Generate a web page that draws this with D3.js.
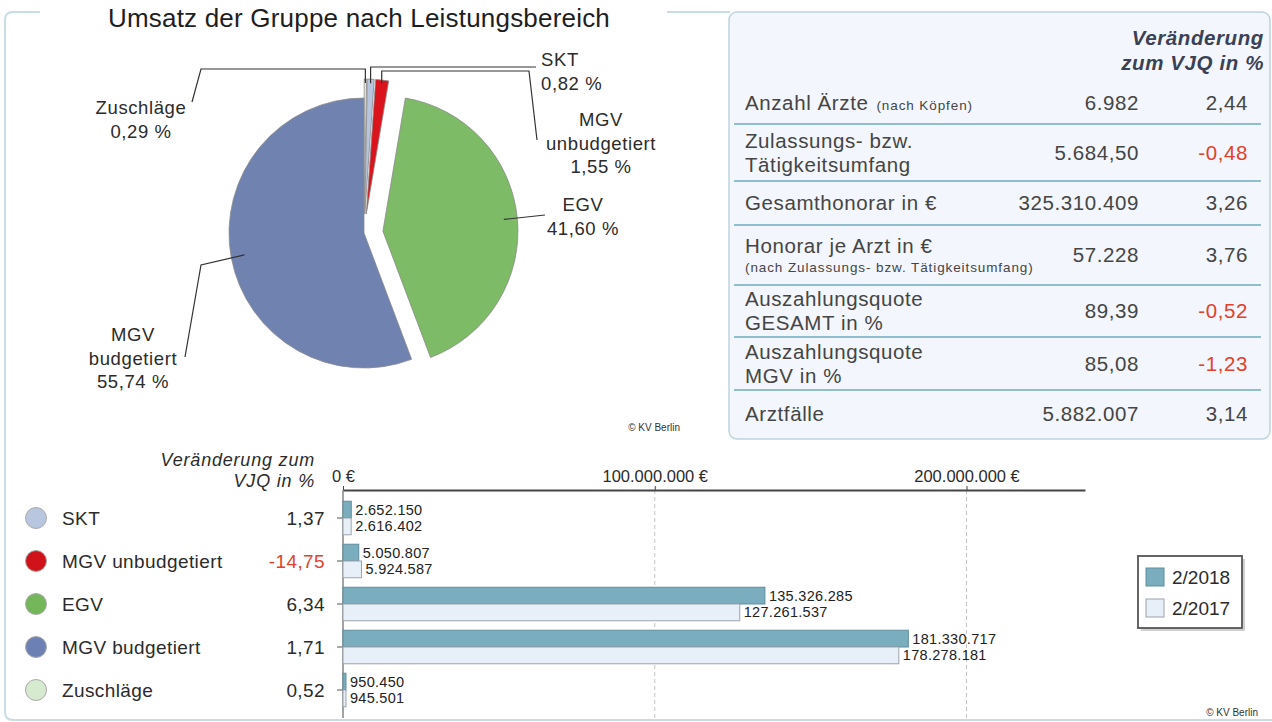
<!DOCTYPE html>
<html lang="de">
<head>
<meta charset="UTF-8">
<title>Umsatz der Gruppe nach Leistungsbereich</title>
<style>
  body {
    margin: 0;
    padding: 0;
    background: #fff;
    overflow: hidden;
  }
  svg {
    display: block;
    font-family: "Liberation Sans", Arial, sans-serif;
  }
</style>
</head>
<body>
<script src="https://d3js.org/d3.v7.min.js"></script>
<script>
// pie: share of turnover by area (clockwise from 12 o'clock)
const pieNames = ["Zuschläge", "SKT", "MGV unbudgetiert", "EGV", "MGV budgetiert"];
const pieShares = [0.29, 0.82, 1.55, 41.60, 55.74];
const pieColors = ["#e4ece0", "#b7c5df", "#d9141c", "#7dbb66", "#6f82b0"];

// bar chart
const barCategories = ["SKT", "MGV unbudgetiert", "EGV", "MGV budgetiert", "Zuschläge"];
const legendColors = ["#b9c6e0", "#d0121b", "#74b65a", "#6c80b3", "#d6ead0"];
const changeVJQ = [1.37, -14.75, 6.34, 1.71, 0.52];
const values2018 = [2652150, 5050807, 135326285, 181330717, 950450];
const values2017 = [2616402, 5924587, 127261537, 178278181, 945501];
const seriesNames = ["2/2018", "2/2017"];
const xTickValues = [0, 100000000, 200000000];

// key figures table
const tableLabels = [
  ["Anzahl Ärzte"],
  ["Zulassungs- bzw.", "Tätigkeitsumfang"],
  ["Gesamthonorar in €"],
  ["Honorar je Arzt in €"],
  ["Auszahlungsquote", "GESAMT in %"],
  ["Auszahlungsquote", "MGV in %"],
  ["Arztfälle"]
];
const tableNotes = ["(nach Köpfen)", "", "", "(nach Zulassungs- bzw. Tätigkeitsumfang)", "", "", ""];
const tableValues = [6982, 5684.50, 325310409, 57228, 89.39, 85.08, 5882007];
const tableChanges = [2.44, -0.48, 3.26, 3.76, -0.52, -1.23, 3.14];

const width = 1272, height = 722;
const de = d3.formatLocale({decimal: ",", thousands: ".", grouping: [3], currency: ["", " €"], minus: "-"});
const fmtInt = de.format(",.0f");
const fmt2 = de.format(",.2f");
const textCol = "#2b2b2b";
const negCol = "#e2412b";

const svg = d3.select("body").append("svg")
  .attr("width", width)
  .attr("height", height);

// outer frame (interrupted by the title)
svg.append("path")
  .attr("d", "M40,12 H13 Q5,12 5,20 V712 Q5,720 13,720 H1272 M667,12 H730")
  .attr("fill", "none")
  .attr("stroke", "#c9dde5")
  .attr("stroke-width", 2);

svg.append("text")
  .attr("x", 359).attr("y", 27)
  .attr("text-anchor", "middle")
  .attr("font-size", 26)
  .attr("letter-spacing", 0.2)
  .attr("fill", "#1e1e1e")
  .text("Umsatz der Gruppe nach Leistungsbereich");

// ---------- pie ----------
const cx = 364, cy = 233, pieR = 135;
const pieData = d3.pie().sort(null).value(d => d)(pieShares);
const arc = d3.arc().innerRadius(0).outerRadius(pieR);
const maxShare = d3.max(pieShares);
const explodeBy = d => d.value === maxShare ? 0 : 19;
const midA = d => (d.startAngle + d.endAngle) / 2;
const offset = d => [Math.sin(midA(d)) * explodeBy(d), -Math.cos(midA(d)) * explodeBy(d)];
const pointOn = (d, frac) => {
  const o = offset(d);
  return [cx + o[0] + Math.sin(midA(d)) * pieR * frac, cy + o[1] - Math.cos(midA(d)) * pieR * frac];
};

const gPie = svg.append("g").attr("transform", `translate(${cx},${cy})`);
gPie.selectAll("path")
  .data(pieData)
  .join("path")
  .attr("transform", d => `translate(${offset(d)})`)
  .attr("d", arc)
  .attr("fill", (d, i) => pieColors[i])
  .attr("stroke", "#8a8a8a")
  .attr("stroke-width", 0.8);

// label placement and leader elbows
const pieLabelPos = [
  {x: 141, y: 108, anchor: "middle", leader: s => [s, [s[0], 69], [201, 69], [192, 102]]},
  {x: 541, y: 60, anchor: "start", leader: s => [s, [s[0], 67], [536, 67]]},
  {x: 601, y: 120, anchor: "middle", leader: s => [s, [s[0], 71], [529, 71], [537, 140]]},
  {x: 583, y: 205, anchor: "middle", leader: s => [s, [545, 215]]},
  {x: 133, y: 335, anchor: "middle", leader: s => [s, [201, 265], [185, 357]]}
];
const lineGen = d3.line();
pieData.forEach((d, i) => {
  const pos = pieLabelPos[i];
  const start = pointOn(d, d.value < 5 ? 0.97 : 0.9);
  svg.append("path")
    .attr("d", lineGen(pos.leader(start)))
    .attr("fill", "none")
    .attr("stroke", "#333")
    .attr("stroke-width", 1.2);
  const lines = pieNames[i].split(" ").concat([fmt2(pieShares[i]) + " %"]);
  const t = svg.append("text")
    .attr("text-anchor", pos.anchor)
    .attr("font-size", 18.5)
    .attr("letter-spacing", 0.6)
    .attr("fill", textCol);
  lines.forEach((ln, k) => {
    t.append("tspan").attr("x", pos.x).attr("y", pos.y + 6 + k * 23.5).text(ln);
  });
});

svg.append("text")
  .attr("x", 680).attr("y", 431)
  .attr("text-anchor", "end")
  .attr("font-size", 10)
  .attr("fill", "#333")
  .text("© KV Berlin");

// ---------- table ----------
const tx = 729, ty = 12, tw = 541, th = 427;
svg.append("rect")
  .attr("x", tx).attr("y", ty).attr("width", tw).attr("height", th)
  .attr("rx", 8)
  .attr("fill", "#f3f6fc")
  .attr("stroke", "#bcd4de")
  .attr("stroke-width", 1.5);

const head = svg.append("text")
  .attr("text-anchor", "end")
  .attr("font-size", 20.5)
  .attr("letter-spacing", 0.6)
  .attr("font-weight", "bold")
  .attr("font-style", "italic")
  .attr("fill", "#3a4157");
["Veränderung", "zum VJQ in %"].forEach((ln, k) => {
  head.append("tspan").attr("x", 1264).attr("y", 45 + k * 25).text(ln);
});

const rowBounds = [82, 124, 181, 225, 285, 337, 390, 437];
svg.selectAll("line.sep")
  .data(rowBounds.slice(1, -1))
  .join("line")
  .attr("class", "sep")
  .attr("x1", 734).attr("x2", 1261)
  .attr("y1", d => d).attr("y2", d => d)
  .attr("stroke", "#8fbfce")
  .attr("stroke-width", 2);

const rowFont = 20.5;
tableLabels.forEach((lab, i) => {
  const yc = (rowBounds[i] + rowBounds[i + 1]) / 2;
  const g = svg.append("g").attr("fill", "#454545").attr("letter-spacing", 0.6);
  const note = tableNotes[i];
  if (lab.length === 2) {
    lab.forEach((ln, k) => {
      g.append("text").attr("x", 745).attr("y", yc - 12 + k * 24 + 7)
        .attr("font-size", rowFont).text(ln);
    });
  } else if (note && i > 0) {
    g.append("text").attr("x", 745).attr("y", yc - 9 + 7).attr("font-size", rowFont).text(lab[0]);
    g.append("text").attr("x", 745).attr("y", yc + 13 + 4)
      .attr("font-size", 13.5).attr("letter-spacing", 0.9).text(note);
  } else {
    const t = g.append("text").attr("x", 745).attr("y", yc + 7).attr("font-size", rowFont).text(lab[0]);
    if (note) {
      t.append("tspan").attr("font-size", 13.5).attr("letter-spacing", 0.9).attr("dx", 8).text(note);
    }
  }
  const v = tableValues[i];
  g.append("text").attr("x", 1139).attr("y", yc + 7)
    .attr("text-anchor", "end").attr("font-size", rowFont)
    .text(Number.isInteger(v) ? fmtInt(v) : fmt2(v));
  g.append("text").attr("x", 1248).attr("y", yc + 7)
    .attr("text-anchor", "end").attr("font-size", rowFont)
    .attr("fill", tableChanges[i] < 0 ? negCol : "#454545")
    .text(fmt2(tableChanges[i]));
});

// ---------- bar chart ----------
const x = d3.scaleLinear().domain([0, 238000000]).range([343, 1085]);
const y = d3.scaleBand().domain(barCategories).range([496.5, 711.5]).paddingInner(0.22).paddingOuter(0.11);
const ySub = d3.scaleBand().domain(seriesNames).range([0, y.bandwidth()]);
const seriesFill = ["#7aaebf", "#e7f0f9"];
const seriesStroke = ["#5f8d9d", "#9ea4aa"];
const seriesValues = [values2018, values2017];

// gridlines
svg.selectAll("line.grid")
  .data(xTickValues.filter(d => d > 0))
  .join("line")
  .attr("class", "grid")
  .attr("x1", d => x(d)).attr("x2", d => x(d))
  .attr("y1", 490).attr("y2", 718)
  .attr("stroke", "#c4c4c4")
  .attr("stroke-dasharray", "4,3");

const xAxis = svg.append("g")
  .attr("transform", "translate(0,490)")
  .call(d3.axisTop(x).tickValues(xTickValues).tickSizeInner(4).tickSizeOuter(0).tickPadding(4)
    .tickFormat(d => fmtInt(d) + " €"));
xAxis.select(".domain").attr("stroke", "#444").attr("stroke-width", 2);
xAxis.selectAll(".tick line").attr("stroke", "#444");
xAxis.selectAll(".tick text")
  .attr("font-family", "Liberation Sans, Arial, sans-serif")
  .attr("font-size", 16.5)
  .attr("fill", textCol);

const yAxis = svg.append("g")
  .attr("transform", "translate(343,0)")
  .call(d3.axisLeft(y).tickSizeInner(6).tickSizeOuter(0).tickFormat(""));
yAxis.select(".domain").remove();
yAxis.selectAll(".tick line").attr("stroke", "#555");
svg.append("line")
  .attr("x1", 343).attr("x2", 343).attr("y1", 490).attr("y2", 718)
  .attr("stroke", "#666").attr("stroke-width", 1.2);

seriesNames.forEach((s, si) => {
  const vals = seriesValues[si];
  svg.append("g").selectAll("rect")
    .data(barCategories)
    .join("rect")
    .attr("x", x(0))
    .attr("y", c => y(c) + ySub(s))
    .attr("width", (c, i) => x(vals[i]) - x(0))
    .attr("height", ySub.bandwidth())
    .attr("fill", seriesFill[si])
    .attr("stroke", seriesStroke[si])
    .attr("stroke-width", 1);
  svg.append("g").selectAll("text")
    .data(barCategories)
    .join("text")
    .attr("x", (c, i) => x(vals[i]) + 4)
    .attr("y", c => y(c) + ySub(s) + ySub.bandwidth() / 2 + 5)
    .attr("font-size", 14.5)
    .attr("letter-spacing", 0.3)
    .attr("fill", "#222")
    .text((c, i) => fmtInt(vals[i]));
});

// left legend with change column
const head2 = svg.append("text")
  .attr("text-anchor", "end")
  .attr("font-size", 18)
  .attr("letter-spacing", 0.8)
  .attr("font-style", "italic")
  .attr("fill", textCol);
["Veränderung zum", "VJQ in %"].forEach((ln, k) => {
  head2.append("tspan").attr("x", 315).attr("y", 466 + k * 21).text(ln);
});

const leg = svg.append("g").selectAll("g")
  .data(barCategories)
  .join("g")
  .attr("transform", c => `translate(0,${y(c) + y.bandwidth() / 2})`);
leg.append("circle")
  .attr("cx", 36).attr("r", 10.5)
  .attr("fill", (c, i) => legendColors[i])
  .attr("stroke", "#a9a9a9")
  .attr("stroke-width", 1);
leg.append("text")
  .attr("x", 62).attr("y", 6.5)
  .attr("font-size", 19)
  .attr("letter-spacing", 0.4)
  .attr("fill", textCol)
  .text(c => c);
leg.append("text")
  .attr("x", 325).attr("y", 6.5)
  .attr("text-anchor", "end")
  .attr("font-size", 19)
  .attr("letter-spacing", 0.4)
  .attr("fill", (c, i) => changeVJQ[i] < 0 ? negCol : textCol)
  .text((c, i) => fmt2(changeVJQ[i]));

// series legend
svg.append("rect")
  .attr("x", 1141).attr("y", 559).attr("width", 104).attr("height", 72)
  .attr("fill", "#d0d0d0");
svg.append("rect")
  .attr("x", 1138).attr("y", 556).attr("width", 104).attr("height", 72)
  .attr("fill", "#fff")
  .attr("stroke", "#555")
  .attr("stroke-width", 1.8);
const sl = svg.append("g").selectAll("g")
  .data(seriesNames)
  .join("g")
  .attr("transform", (s, i) => `translate(1146,${568 + i * 31})`);
sl.append("rect")
  .attr("width", 18).attr("height", 18)
  .attr("fill", (s, i) => seriesFill[i])
  .attr("stroke", (s, i) => seriesStroke[i]);
sl.append("text")
  .attr("x", 26).attr("y", 16)
  .attr("font-size", 19)
  .attr("fill", textCol)
  .text(s => s);

svg.append("text")
  .attr("x", 1258).attr("y", 716)
  .attr("text-anchor", "end")
  .attr("font-size", 10)
  .attr("fill", "#333")
  .text("© KV Berlin");
</script>
</body>
</html>
